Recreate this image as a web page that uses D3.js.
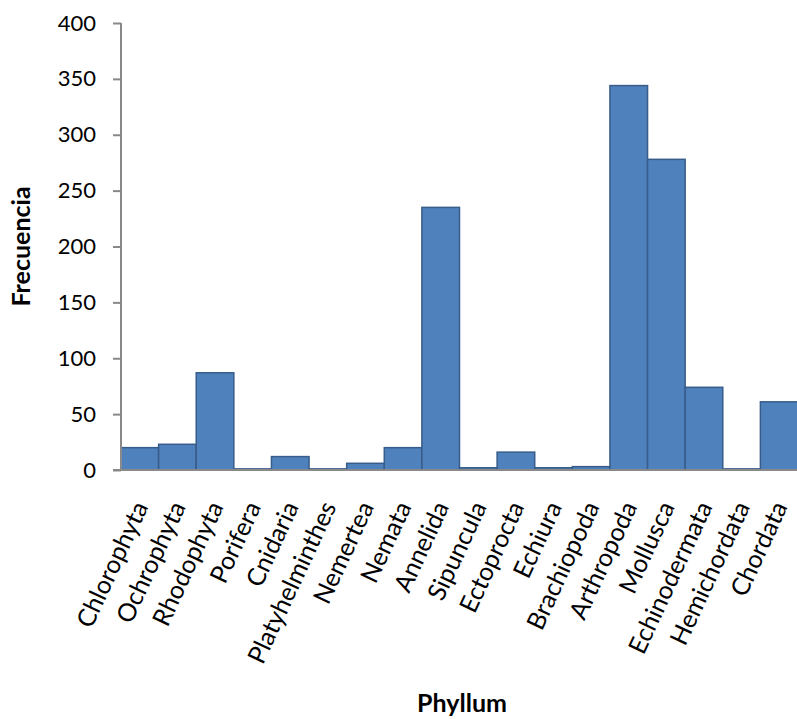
<!DOCTYPE html>
<html>
<head>
<meta charset="utf-8">
<script src="https://cdn.jsdelivr.net/npm/d3@7"></script>
<style>
  html, body { margin: 0; padding: 0; background: #fff; }
  svg { display: block; }
</style>
</head>
<body>
<svg id="chart" width="797" height="719"></svg>
<script>
// Phyla and their observed frequencies
const categories = ["Chlorophyta", "Ochrophyta", "Rhodophyta", "Porifera", "Cnidaria",
  "Platyhelminthes", "Nemertea", "Nemata", "Annelida", "Sipuncula", "Ectoprocta",
  "Echiura", "Brachiopoda", "Arthropoda", "Mollusca", "Echinodermata", "Hemichordata", "Chordata"];
const frequencies = [20, 23, 87, 1, 12, 1, 6, 20, 235, 2, 16, 2, 3, 344, 278, 74, 1, 61];
const yTicks = [0, 50, 100, 150, 200, 250, 300, 350, 400];
const xTitle = "Phyllum";
const yTitle = "Frecuencia";

const svg = d3.select("#chart");
const margin = { left: 121, right: -1, top: 23, bottom: 249 };
const W = 797, H = 719;

const x = d3.scaleBand()
  .domain(categories)
  .range([margin.left, W - margin.right])
  .paddingInner(0)
  .paddingOuter(0);

const y = d3.scaleLinear()
  .domain([0, 400])
  .range([H - margin.bottom, margin.top]);

const axisColor = "#898989";
const font = "Lato, 'Open Sans', sans-serif";

// Bars
svg.append("g")
  .selectAll("rect")
  .data(categories.map((c, i) => ({ c, v: frequencies[i] })))
  .join("rect")
  .attr("x", d => x(d.c))
  .attr("y", d => y(d.v))
  .attr("width", x.bandwidth())
  .attr("height", d => y(0) - y(d.v))
  .attr("fill", "#4F81BD")
  .attr("stroke", "#385D8A")
  .attr("stroke-width", 1.5);

// Y axis
const yAxis = svg.append("g")
  .attr("transform", `translate(${margin.left},0)`)
  .call(d3.axisLeft(y).tickValues(yTicks).tickSize(8).tickPadding(17).tickFormat(d3.format("d")));
yAxis.select(".domain").attr("stroke", axisColor).attr("stroke-width", 2)
  .attr("d", `M0,${y(400)}V${y(0)}`);
yAxis.selectAll(".tick line").attr("stroke", axisColor).attr("stroke-width", 2);
yAxis.selectAll(".tick text")
  .attr("fill", "#000")
  .style("font-family", font)
  .style("font-size", "22px");

// X axis baseline
const xAxis = svg.append("g")
  .attr("transform", `translate(0,${y(0)})`)
  .call(d3.axisBottom(x).tickSize(0).tickFormat(""));
xAxis.select(".domain").attr("stroke", axisColor).attr("stroke-width", 2)
  .attr("d", `M${margin.left - 8},0H${W}`);

// Rotated category labels
const angle = -65;
svg.append("g")
  .selectAll("text")
  .data(categories)
  .join("text")
  .attr("transform", d => `translate(${x(d) + x.bandwidth() / 2 + 1},${y(0) + 33}) rotate(${angle})`)
  .attr("text-anchor", "end")
  .attr("dy", "0.35em")
  .style("font-family", font)
  .style("font-size", "25px")
  .attr("fill", "#000")
  .text(d => d);

// Axis titles
svg.append("text")
  .attr("transform", `translate(30,${(y(0) + y(400)) / 2}) rotate(-90)`)
  .attr("text-anchor", "middle")
  .style("font-family", font)
  .style("font-weight", "bold")
  .style("font-size", "25px")
  .text(yTitle);

svg.append("text")
  .attr("x", 462)
  .attr("y", 712)
  .attr("text-anchor", "middle")
  .style("font-family", font)
  .style("font-weight", "bold")
  .style("font-size", "25px")
  .text(xTitle);
</script>
</body>
</html>
